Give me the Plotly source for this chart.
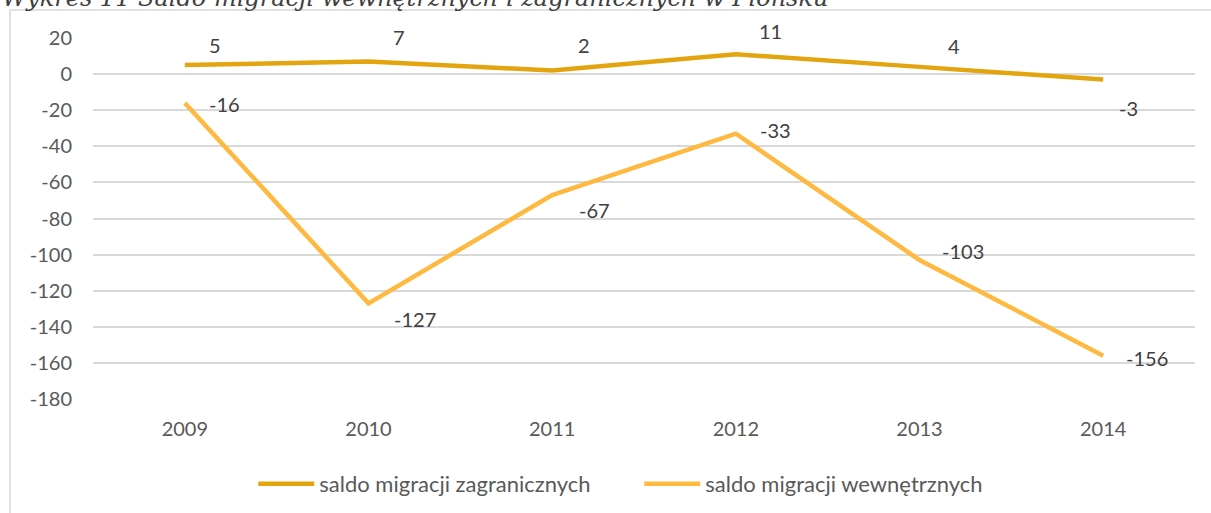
import plotly.graph_objects as go

years = ["2009", "2010", "2011", "2012", "2013", "2014"]
foreign = [5, 7, 2, 11, 4, -3]
internal = [-16, -127, -67, -33, -103, -156]
name_foreign = "saldo migracji zagranicznych"
name_internal = "saldo migracji wewnętrznych"
title_text = "Wykres 11 Saldo migracji wewnętrznych i zagranicznych w Płońsku"
y_ticks = list(range(20, -181, -20))
y_ticklabels = [str(v) for v in y_ticks]

# label offsets (style only, pixels)
f_dx = [22, 22, 24, 21, 26, 14]
f_dy = [20, 24, 25, 23, 21, -28]
i_dx = [22, 23, 25, 22, 20, 21]
i_dy = [-1, -16, -15, 4, 9, -2]

c_foreign = "#E3A50F"
c_internal = "#FFB940"
txt = "#404040"
font = "Lato"

fig = go.Figure()
fig.add_trace(go.Scatter(x=years, y=foreign, mode="lines", name=name_foreign,
                         line=dict(color=c_foreign, width=4.5), cliponaxis=False))
fig.add_trace(go.Scatter(x=years, y=internal, mode="lines", name=name_internal,
                         line=dict(color=c_internal, width=4.5), cliponaxis=False))

ann = []
for i, (v, dx, dy) in enumerate(zip(foreign, f_dx, f_dy)):
    ann.append(dict(x=i, y=v, xref="x", yref="y", text=str(v), showarrow=False,
                    xanchor="left", yanchor="middle", xshift=dx, yshift=dy,
                    font=dict(family=font, size=20, color=txt)))
for i, (v, dx, dy) in enumerate(zip(internal, i_dx, i_dy)):
    ann.append(dict(x=i, y=v, xref="x", yref="y", text=str(v), showarrow=False,
                    xanchor="left", yanchor="middle", xshift=dx, yshift=dy,
                    font=dict(family=font, size=20, color=txt)))
ann.append(dict(x=-0.0844, y=1, xref="paper", yref="paper", text="<i>" + title_text + "</i>",
                showarrow=False, xanchor="left", yanchor="bottom", yshift=24,
                font=dict(family="DejaVu Serif", size=24, color="#404040")))

fig.update_layout(
    width=1211, height=513,
    margin=dict(l=93, r=16, t=38, b=114, autoexpand=False),
    paper_bgcolor="white", plot_bgcolor="white",
    font=dict(family=font, size=20, color="#595959"),
    annotations=ann,
    showlegend=True,
    legend=dict(orientation="h", x=0.4957, xanchor="center",
                yref="container", y=0.0565, yanchor="middle",
                font=dict(family=font, size=22, color="#595959"), itemwidth=56,
                entrywidth=315),
    shapes=[dict(type="rect", xref="paper", yref="paper", x0=-0.0753, x1=1.02,
                 y0=-0.35, y1=1.0776, line=dict(color="#D9D9D9", width=1.5), layer="below")],
)
fig.update_xaxes(type="category", range=[-0.5, 5.5], showgrid=False, zeroline=False,
                 showline=False, ticks="", ticklabelstandoff=16, automargin=False,
                 tickfont=dict(family=font, size=20, color="#595959"))
fig.update_yaxes(range=[-180, 20], tickvals=y_ticks, ticktext=y_ticklabels, showgrid=True,
                 gridcolor="#D9D9D9", gridwidth=1.5, zeroline=False, showline=False, ticks="",
                 ticklabelstandoff=20, automargin=False,
                 tickfont=dict(family=font, size=20, color="#595959"))

fig.write_html("out.html", config={"displayModeBar": False},
               post_script="document.body.style.margin='0';")
